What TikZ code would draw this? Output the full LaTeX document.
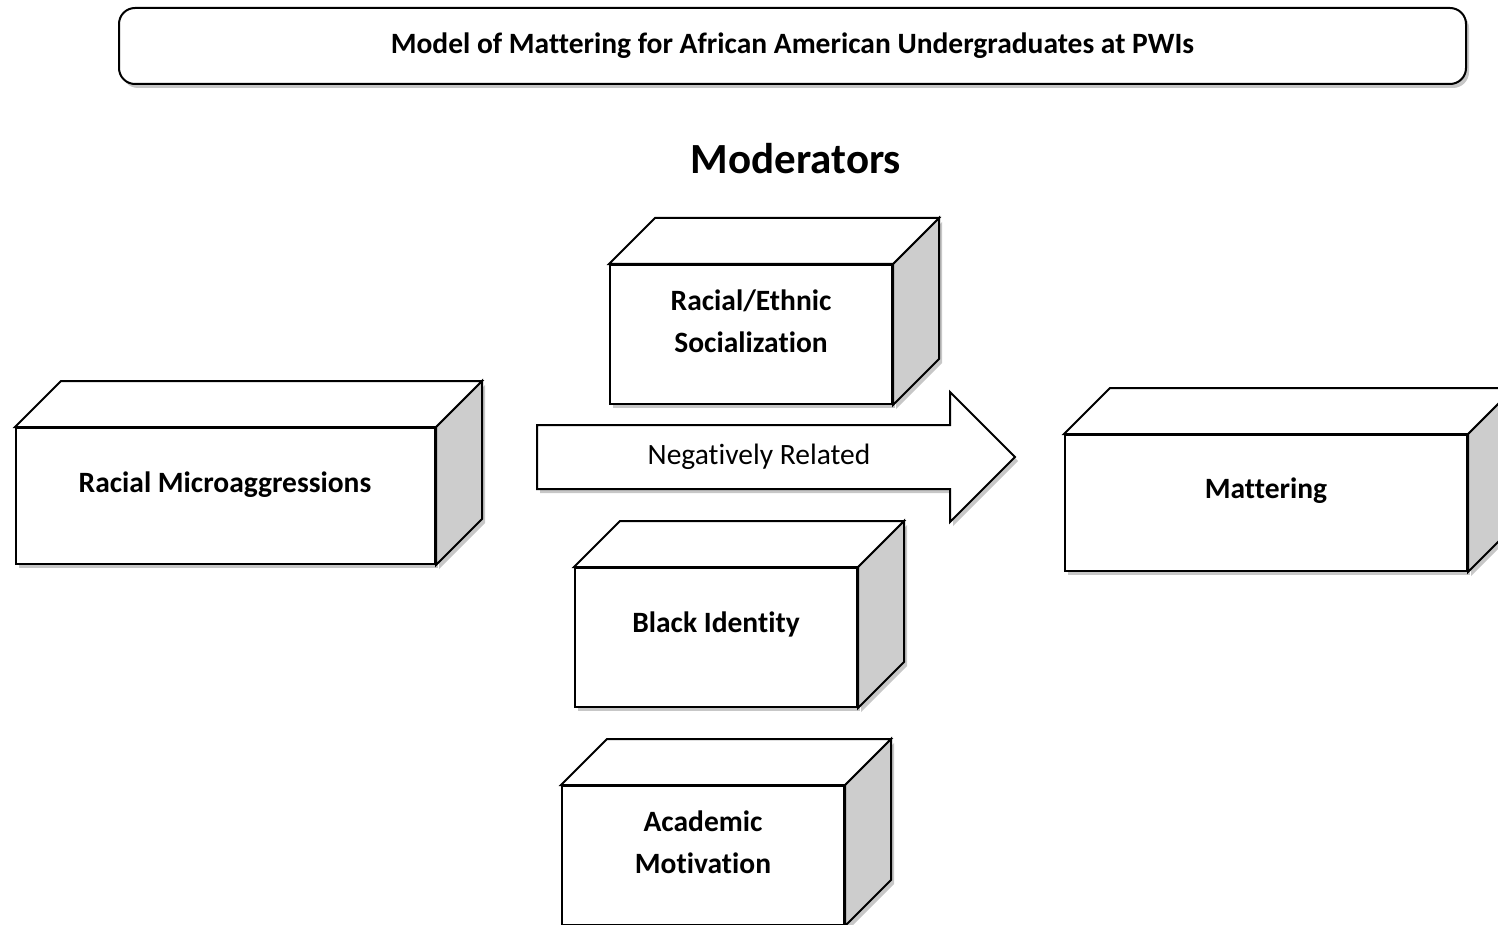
\documentclass[tikz,border=0pt]{standalone}
\usepackage{fontspec}
\setmainfont[Ligatures=NoCommon]{Carlito}
\usetikzlibrary{shapes.arrows,shadows}
\definecolor{sidegray}{RGB}{205,205,205}
\tikzset{
  edge/.style={draw=black, line width=2pt, line join=miter},
  shad/.style={drop shadow={shadow xshift=3pt, shadow yshift=-4pt, opacity=0.22, fill=black}},
  front/.style={edge, shad, fill=white, rectangle, inner sep=0pt},
  lbl/.style={align=center, inner sep=0pt, font=\fontsize{29.5}{42}\bfseries\selectfont},
}
\newcommand\mydepth[1]{%
  \draw[edge, shad, fill=sidegray] (#1.north east) -- ([shift={(46pt,46pt)}]#1.north east)
     -- ([shift={(46pt,46pt)}]#1.south east) -- (#1.south east) -- cycle;
  \draw[edge, fill=white] (#1.north west) -- ([shift={(46pt,46pt)}]#1.north west)
     -- ([shift={(46pt,46pt)}]#1.north east) -- (#1.north east) -- cycle;
}
\begin{document}
\begin{tikzpicture}[x=1pt,y=-1pt]
\clip (0,0) rectangle (1498,925);
\fill[white] (0,0) rectangle (1498,925);
% title
\node[edge, shad, fill=white, rounded corners=16pt, minimum width=1347pt, minimum height=76pt,
      font=\fontsize{29.5}{36}\bfseries\selectfont] (title) at (792.5,46)
      {Model of Mattering for African American Undergraduates at PWIs};
\node[font=\fontsize{43}{52}\bfseries\selectfont, inner sep=0pt] (mod) at (796,159) {Moderators};
% boxes
\node[front, minimum width=419pt, minimum height=136pt] (rm) at (225.5,496) {};
\mydepth{rm}
\node[lbl] (rmt) at (225,485) {Racial Microaggressions};

\node[front, minimum width=282pt, minimum height=139pt] (res) at (751,334.5) {};
\mydepth{res}
\node[lbl] (rest) at (751,321) {Racial/Ethnic\\Socialization};

\node[front, minimum width=282pt, minimum height=139pt] (bi) at (716,637.5) {};
\mydepth{bi}
\node[lbl] (bit) at (716,624) {Black Identity};

\node[front, minimum width=282pt, minimum height=139pt] (am) at (703,855.5) {};
\mydepth{am}
\node[lbl] (amt) at (703,842) {Academic\\Motivation};

\node[front, minimum width=402pt, minimum height=136pt] (mat) at (1266,503) {};
\mydepth{mat}
\node[lbl] (matt) at (1266,491) {Mattering};

% arrow
\node[edge, shad, fill=white, single arrow, single arrow head extend=33pt,
      inner sep=0pt, inner ysep=31pt, minimum height=478pt, anchor=west] (rel) at (536,457) {};
\node[font=\fontsize{29.5}{36}\selectfont, inner sep=0pt] (relt) at (759,457) {Negatively Related};
\end{tikzpicture}
\end{document}
